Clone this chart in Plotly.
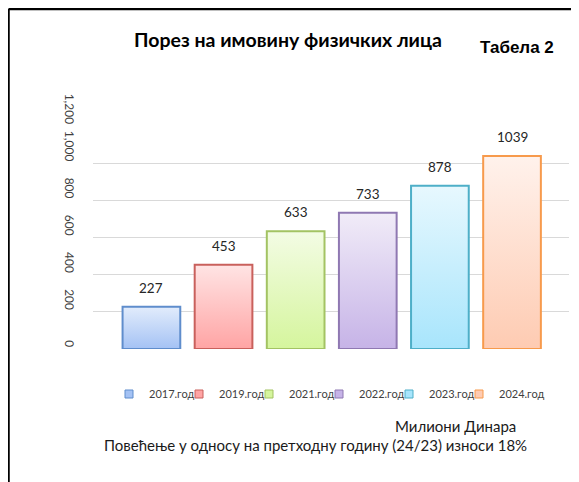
import plotly.graph_objects as go

# податке читамо са слике
years = ['2017.год', '2019.год', '2021.год', '2022.год', '2023.год', '2024.год']
values = [227, 453, 633, 733, 878, 1039]

# боје: ивица, врх и дно градијента
edge_colors = ['#5f8dcc', '#c9605c', '#a3c363', '#8f78b2', '#4eafc8', '#f79a4c']
top_colors = ['#e2ecfc', '#ffe4e4', '#f3fce4', '#f1ecf8', '#e7f8fe', '#fff2ec']
bottom_colors = ['#a4c2f4', '#ffa4a4', '#d5f59d', '#c6b3e7', '#a8e5fc', '#fecbb2']

# страница има маргину од 8px, па се све помера за OFF
OFF = 8
W, H = 579 - OFF, 482 - OFF
L, R, T, B = 93 - OFF, 10, 126 - OFF, 133
bar_w = 0.8


def px_x(p):
    return (p - OFF - L) / (W - L - R)


def px_y(p):
    return (H - B - (p - OFF)) / (H - T - B)


fig = go.Figure()
for i, (yr, v) in enumerate(zip(years, values)):
    fig.add_trace(go.Scatter(
        x=[i - bar_w / 2, i - bar_w / 2, i + bar_w / 2, i + bar_w / 2, i - bar_w / 2],
        y=[0, v, v, 0, 0],
        mode='lines', fill='toself',
        fillgradient=dict(type='vertical',
                          colorscale=[[0, bottom_colors[i]], [1, top_colors[i]]]),
        line=dict(color=edge_colors[i], width=2),
        showlegend=False, hoverinfo='skip'))
    # легенда
    fig.add_trace(go.Scatter(
        x=[None], y=[None], mode='markers', name=yr,
        legendwidth=60 if i == len(years) - 1 else None,
        marker=dict(symbol='square', size=8, color=bottom_colors[i],
                    line=dict(color=edge_colors[i], width=1))))
    fig.add_annotation(x=i, y=v, text=str(v), showarrow=False, yanchor='bottom',
                       yshift=9, font=dict(family='Lato', size=13.5, color='#262626'))

fig.add_annotation(x=px_x(517), y=px_y(47), xref='paper', yref='paper',
                   xanchor='center', yanchor='middle',
                   text='<b>Табела 2</b>', showarrow=False,
                   font=dict(family='Liberation Sans', size=17, color='black'))
fig.add_annotation(x=px_x(455), y=px_y(426), xref='paper', yref='paper',
                   xanchor='center', yanchor='middle',
                   text='Милиони Динара', showarrow=False,
                   font=dict(family='Lato', size=15, color='#1a1a1a'))
fig.add_annotation(x=px_x(315.5), y=px_y(445), xref='paper', yref='paper',
                   xanchor='center', yanchor='middle',
                   text='Повећење у односу на претходну годину (24/23) износи 18%',
                   showarrow=False, font=dict(family='Lato', size=15, color='#1a1a1a'))

# оквир
fig.add_shape(type='line', xref='paper', yref='paper', x0=px_x(8.5), x1=px_x(8.5),
              y0=px_y(9), y1=px_y(600), line=dict(color='black', width=2.5))
fig.add_shape(type='line', xref='paper', yref='paper', x0=px_x(8.5), x1=px_x(700),
              y0=px_y(9), y1=px_y(9), line=dict(color='black', width=2.5))

fig.update_layout(
    width=W, height=H,
    margin=dict(l=L, r=R, t=T, b=B),
    paper_bgcolor='white', plot_bgcolor='white',
    title=dict(text='<b>Порез на имовину физичких лица</b>', x=(288 - OFF) / W,
               xanchor='center', y=1 - (40 - OFF) / H, yanchor='middle',
               font=dict(family='Lato', size=19.5, color='black')),
    font=dict(family='Lato', color='#404040'),
    showlegend=True,
    legend=dict(orientation='h', x=px_x(109), xanchor='left', y=px_y(394), yanchor='middle',
                entrywidth=25, entrywidthmode='pixels',
                font=dict(family='Lato', size=11, color='#404040')),
    xaxis=dict(range=[-0.81, 5.79], showticklabels=False, showgrid=False,
               zeroline=False, showline=False),
    yaxis=dict(range=[0, 1200], dtick=200, tickangle=89.9, separatethousands=True,
               tickformat=',d', showgrid=True, gridcolor='#d9d9d9', gridwidth=1,
               zeroline=False, showline=False, ticklabelstandoff=21,
               tickfont=dict(family='Lato', size=12, color='#404040')),
)

fig.write_html("out.html")
